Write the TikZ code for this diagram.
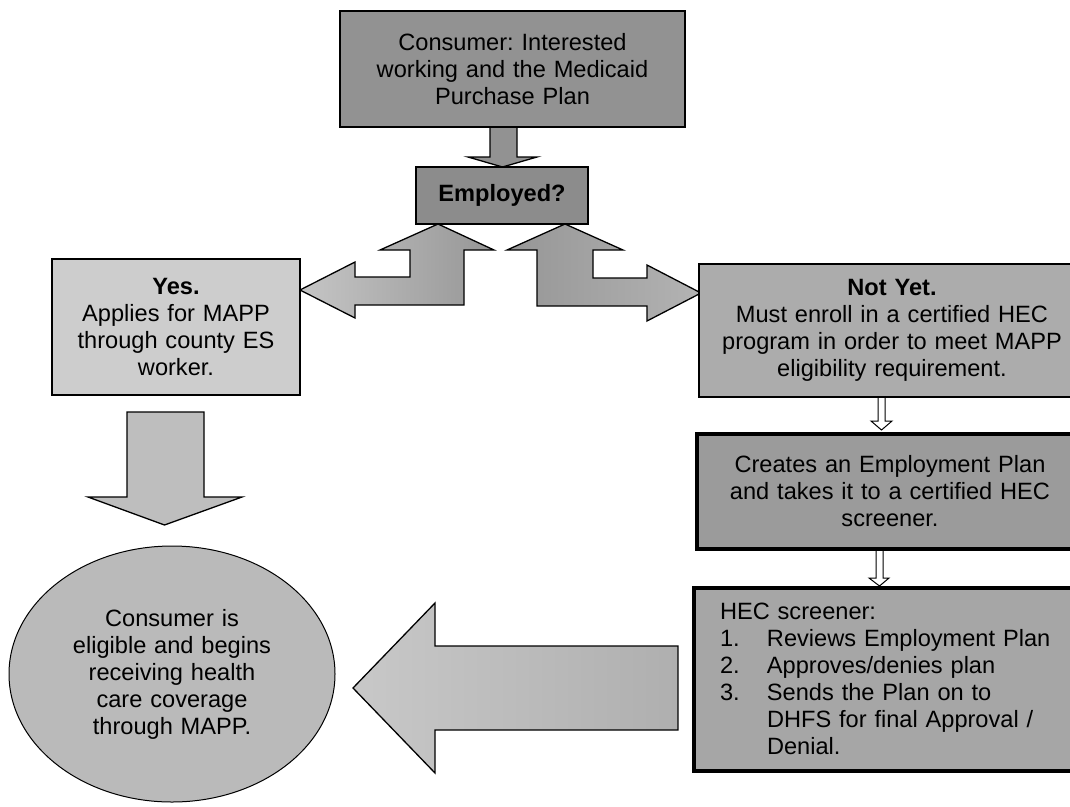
\documentclass[tikz,border=0pt]{standalone}
\usepackage{fontspec}
\setmainfont{Liberation Sans}
\usetikzlibrary{shapes.geometric}
\frenchspacing
\definecolor{cTop}{RGB}{146,146,146}
\definecolor{cEmp}{RGB}{140,140,140}
\definecolor{cYes}{RGB}{205,205,205}
\definecolor{cNot}{RGB}{172,172,172}
\definecolor{cCre}{RGB}{155,155,155}
\definecolor{cHec}{RGB}{166,166,166}
\definecolor{cEll}{RGB}{186,186,186}
\definecolor{cArrLight}{RGB}{200,200,200}
\definecolor{cArrMid}{RGB}{175,175,175}
\definecolor{cArrDark}{RGB}{150,150,150}
\tikzset{
  box/.style={draw=black, line width=1.3pt, inner sep=0pt, align=center,
    font=\fontsize{23.6}{27}\selectfont},
  thickbox/.style={box, line width=4pt},
  blockarrow/.style={draw=black, line width=1.3pt, line join=miter},
  hollowarrow/.style={draw=black, fill=white, line width=1pt, line join=miter}
}
\begin{document}
\begin{tikzpicture}[x=1pt,y=-1pt]
\useasboundingbox[fill=white] (0,0) rectangle (1070,806);

% block arrows (drawn beneath the boxes)
\path[blockarrow, fill=cTop] (490,127) -- (517,127) -- (517,157) -- (537,157) -- (502.5,167)
  -- (468,157) -- (490,157) -- cycle;
\shadedraw[blockarrow, left color=cArrLight!105, right color=cArrDark]
  (438,224) -- (494,250) -- (464,250) -- (464,305) -- (355,305) -- (355,318) -- (300,290)
  -- (355,262) -- (355,277) -- (410,277) -- (410,250) -- (380,250) -- cycle;
\shadedraw[blockarrow, left color=cArrDark, right color=cArrMid!95]
  (565,224) -- (623,250) -- (593,250) -- (593,278) -- (647,278) -- (647,265) -- (701,293)
  -- (647,321) -- (647,306) -- (537,306) -- (537,250) -- (507,250) -- cycle;
\path[blockarrow, fill=cArrLight!95!black] (127,412) -- (204,412) -- (204,497) -- (242,497)
  -- (164.5,525) -- (88,497) -- (127,497) -- cycle;
\path[hollowarrow] (878,397) -- (885,397) -- (885,421) -- (892,421) -- (881.5,430)
  -- (871,421) -- (878,421) -- cycle;
\path[hollowarrow] (876,549) -- (883,549) -- (883,578) -- (889,578) -- (879.5,586)
  -- (869,578) -- (876,578) -- cycle;
\shadedraw[blockarrow, left color=cArrLight, right color=cArrMid]
  (678,646) -- (678,730) -- (435,730) -- (435,773) -- (353,688) -- (435,603) -- (435,646) -- cycle;

% boxes
\node[box, fill=cTop, minimum width=345pt, minimum height=116pt, text width=330pt]
  (top) at (512.5,69) {Consumer: Interested\\working and the Medicaid\\Purchase Plan};
\node[box, fill=cEmp, minimum width=172pt, minimum height=57pt, text width=165pt]
  (emp) at (502,195.5) {\textbf{Employed?}};
\node[box, fill=cYes, minimum width=248pt, minimum height=136pt, text width=240pt]
  (yes) at (176,327) {\textbf{Yes.}\\Applies for MAPP\\through county ES\\worker.};
\node[box, fill=cNot, minimum width=386pt, minimum height=133pt, text width=376pt]
  (notyet) at (892,330.5) {\textbf{Not Yet.}\\Must enroll in a certified HEC\\program in order to meet MAPP\\eligibility requirement.};
\node[thickbox, fill=cCre, minimum width=386pt, minimum height=115pt, text width=376pt]
  (creates) at (890,491.5) {Creates an Employment Plan\\and takes it to a certified HEC\\screener.};
\node[thickbox, fill=cHec, minimum width=391pt, minimum height=183pt, text width=339pt, align=left]
  (hec) at (889.5,679) {HEC screener:\\
  \makebox[47pt][l]{1.}Reviews Employment Plan\\
  \makebox[47pt][l]{2.}Approves/denies plan\\
  \makebox[47pt][l]{3.}Sends the Plan on to\\
  \hspace*{47pt}DHFS for final Approval /\\
  \hspace*{47pt}Denial.};
\node[box, ellipse, line width=1pt, fill=cEll, minimum width=326pt, minimum height=256pt, text width=220pt]
  (elig) at (172,674) {Consumer is\\eligible and begins\\receiving health\\care coverage\\through MAPP.};
\end{tikzpicture}
\end{document}
